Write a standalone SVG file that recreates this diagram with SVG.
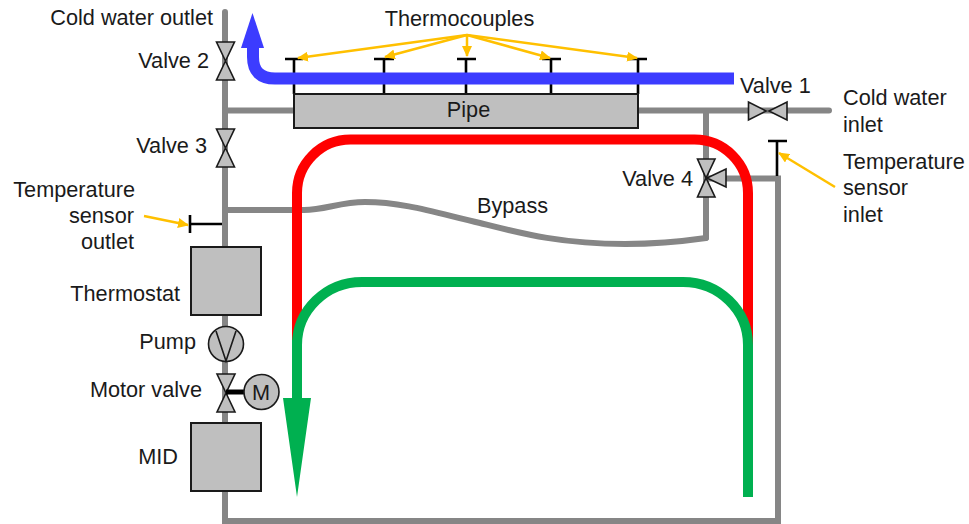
<svg xmlns="http://www.w3.org/2000/svg" width="969" height="524" viewBox="0 0 969 524">
<style>
text{font-family:"Liberation Sans",Arial,sans-serif;font-size:21.7px;fill:#1a1a1a}
.e{text-anchor:end}.m{text-anchor:middle}
.pipe{fill:none;stroke:#868686;stroke-width:6;stroke-linecap:round;stroke-linejoin:miter}
.box{fill:#bfbfbf;stroke:#1a1a1a;stroke-width:2}
.tri{fill:#bfbfbf;stroke:#1a1a1a;stroke-width:1.6;stroke-linejoin:miter}
.sen{fill:none;stroke:#000;stroke-width:2.6}
.ar{fill:none;stroke:#ffc000;stroke-width:2.5;marker-end:url(#ah)}
</style>
<defs>
<marker id="ah" markerUnits="userSpaceOnUse" markerWidth="11" markerHeight="10" refX="10" refY="5" orient="auto"><path d="M0 0L11 5L0 10Z" fill="#ffc000"/></marker>
<g id="vv"><path class="tri" d="M-9-19H9L0 0ZM-9 19H9L0 0Z"/></g>
</defs>
<g id="thermocouple-stems">
<path class="sen" d="M285 59H303M294 59V94M374 59H394M384 59V94M457 59H476M466 59V94M542 59H561M551 59V94M628 59H647M638 59V94"/>
</g>
<g id="connectors">
<path class="pipe" d="M225 12V521H778V178.500H709"/>
<path class="pipe" d="M225 110.500H296M637 110.500H829M706 110.500V238"/>
<path class="pipe" d="M225 210H304C325 210 340 202 365 202C405 202 440 214 480 223C520 233 560 244 625 244C660 244 685 241 706 238"/>
<path d="M297 345V193A53.500 53.500 0 0 1 350.500 139.500H694.500A53.500 53.500 0 0 1 748 193V345" fill="none" stroke="#f00" stroke-width="10"/>
<path d="M297 345A65 63 0 0 1 362 282H683A65 63 0 0 1 748 345V497" fill="none" stroke="#00b050" stroke-width="10"/>
<path d="M292 340H302V398H311L297 497L283 398H292Z" fill="#00b050"/>
<path d="M734 78.500H275Q253 78.500 253 57V45" fill="none" stroke="#3c3cff" stroke-width="12"/>
<path d="M252.500 13L241 48H264Z" fill="#3c3cff"/>
</g>
<g id="pipe-node"><rect class="box" x="294" y="94" width="344" height="34"/><text class="m" x="468.500" y="117">Pipe</text></g>
<g id="thermocouples">
<text class="m" x="459.500" y="26">Thermocouples</text>
<path class="ar" d="M467 35L298 58"/><path class="ar" d="M467 35L385 57"/><path class="ar" d="M467 35V56"/><path class="ar" d="M467 35L550 58"/><path class="ar" d="M467 35L637 58"/>
</g>
<g id="cold-outlet"><text class="e" x="213" y="25">Cold water outlet</text></g>
<g id="valve2"><use href="#vv" x="225.500" y="61"/><text class="e" x="209" y="68">Valve 2</text></g>
<g id="valve3"><use href="#vv" x="225.500" y="148"/><text class="e" x="207" y="153">Valve 3</text></g>
<g id="valve1"><path class="tri" d="M748.500 102V120L766 111ZM787 102V120L769 111Z"/><text x="740" y="93">Valve 1</text></g>
<g id="cold-inlet"><text x="843" y="105">Cold water</text><text x="843" y="132">inlet</text></g>
<g id="valve4"><path class="tri" d="M697.500 159H715L706 178ZM697.500 197H715L706 178ZM726 169V187L707 178Z"/><text class="e" x="693" y="186">Valve 4</text></g>
<g id="sensor-inlet"><path class="sen" d="M768 141H787M777 141V176"/><path class="ar" d="M835 187L779 153"/><text x="843" y="169">Temperature</text><text x="843" y="195">sensor</text><text x="843" y="222">inlet</text></g>
<g id="sensor-outlet"><path class="sen" d="M190 215V233M190 224H222"/><path class="ar" d="M144 216L188 225"/><text class="e" x="135" y="197">Temperature</text><text class="e" x="134" y="223">sensor</text><text class="e" x="134" y="249">outlet</text></g>
<text x="477" y="213">Bypass</text>
<g id="thermostat"><rect class="box" x="191" y="247" width="70" height="68"/><text class="e" x="180" y="301">Thermostat</text></g>
<g id="pump"><circle class="tri" cx="226" cy="344" r="17.500"/><path fill="none" stroke="#1a1a1a" stroke-width="1.6" d="M216 331L226 361L236 331"/><text class="e" x="196" y="349">Pump</text></g>
<g id="motor-valve"><path class="tri" d="M217 374H235L226 393ZM217 412H235L226 393Z"/><path stroke="#000" stroke-width="5" d="M226 392H245"/><circle class="tri" cx="261.500" cy="392" r="17.500"/><text class="m" x="261" y="399.500">M</text><text class="e" x="202" y="397">Motor valve</text></g>
<g id="mid"><rect class="box" x="191" y="423" width="70" height="68"/><text class="e" x="178" y="464">MID</text></g>
</svg>
